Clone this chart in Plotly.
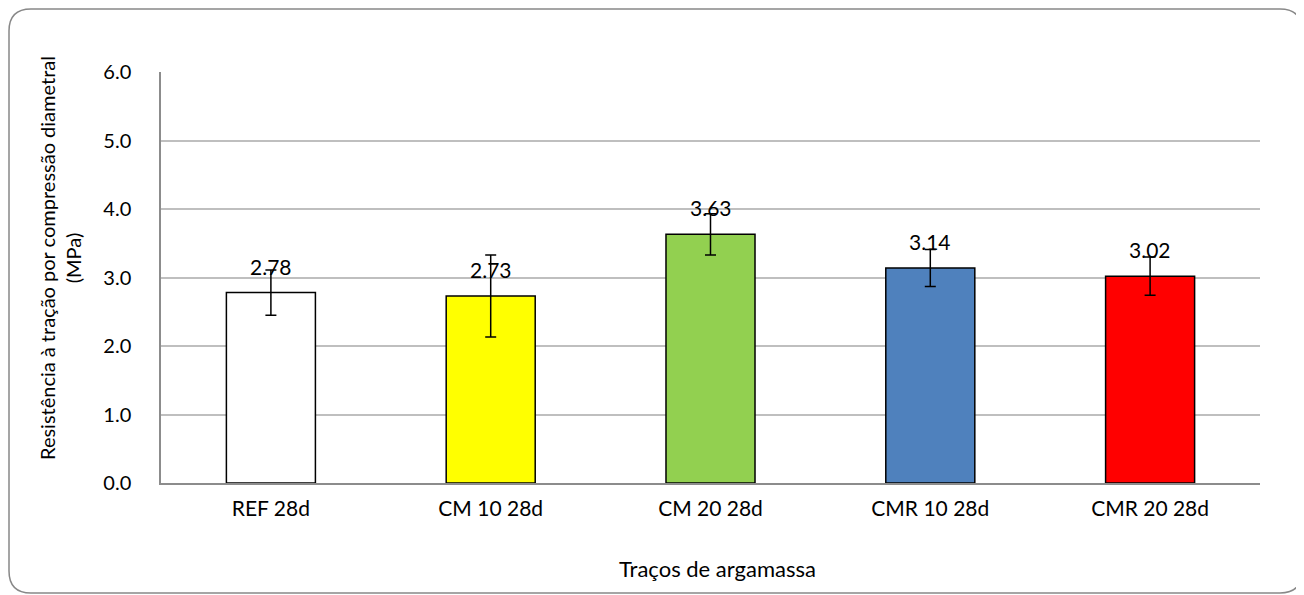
import plotly.graph_objects as go

categories = ["REF 28d", "CM 10 28d", "CM 20 28d", "CMR 10 28d", "CMR 20 28d"]
values = [2.78, 2.73, 3.63, 3.14, 3.02]
errors = [0.33, 0.60, 0.30, 0.27, 0.28]
colors = ["#FFFFFF", "#FFFF00", "#92D050", "#4F81BD", "#FF0000"]
labels = ["2.78", "2.73", "3.63", "3.14", "3.02"]
y_ticks = [0, 1, 2, 3, 4, 5, 6]
y_ticklabels = ["0.0", "1.0", "2.0", "3.0", "4.0", "5.0", "6.0"]

FONT = "Lato"
OFF = 8  # page body margin
W, H = 1304 - OFF, 595 - OFF
L, R, T, B = 161 - OFF, 1260 - OFF, 72 - OFF, 483 - OFF

fig = go.Figure()
fig.add_trace(go.Bar(
    x=categories, y=values,
    marker=dict(color=colors, line=dict(color="black", width=1.5)),
    width=0.405,
    error_y=dict(type="data", array=errors, visible=True, color="black", thickness=1.5, width=5.5),
    showlegend=False, hoverinfo="skip",
))

for c, v, t in zip(categories, values, labels):
    fig.add_annotation(x=c, y=v, text=t, showarrow=False, yanchor="bottom", yshift=12,
                       font=dict(family=FONT, size=21, color="black"))

pw, ph = R - L, B - T
def px(x):
    return (x - L) / pw
def py(y):
    return (B - y) / ph

x0, x1, y0, y1, r = 1, 1294, 1, 585, 22
path = (f"M {px(x0 + r)},{py(y0)} L {px(x1 - r)},{py(y0)} Q {px(x1)},{py(y0)} {px(x1)},{py(y0 + r)} "
        f"L {px(x1)},{py(y1 - r)} Q {px(x1)},{py(y1)} {px(x1 - r)},{py(y1)} "
        f"L {px(x0 + r)},{py(y1)} Q {px(x0)},{py(y1)} {px(x0)},{py(y1 - r)} "
        f"L {px(x0)},{py(y0 + r)} Q {px(x0)},{py(y0)} {px(x0 + r)},{py(y0)} Z")
fig.add_shape(type="path", path=path, xref="paper", yref="paper",
              line=dict(color="#888888", width=1.5), layer="below")

fig.add_annotation(text="Resistência à tração por compressão diametral<br>(MPa)",
                   x=px(52), y=py(250), xref="paper", yref="paper", textangle=-90,
                   showarrow=False, xanchor="center", yanchor="middle",
                   font=dict(family=FONT, size=20, color="black"))
fig.add_annotation(text="Traços de argamassa", x=px(709), y=py(560), xref="paper", yref="paper",
                   showarrow=False, xanchor="center", yanchor="middle",
                   font=dict(family=FONT, size=22, color="black"))

fig.update_layout(
    width=W, height=H,
    margin=dict(l=L, r=W - R, t=T, b=H - B, pad=0),
    paper_bgcolor="white", plot_bgcolor="white",
    font=dict(family=FONT, size=20, color="black"),
)
fig.update_xaxes(showline=True, linecolor="#8C8C8C", linewidth=1.5, showgrid=False,
                 ticks="outside", ticklen=6, tickcolor="rgba(0,0,0,0)",
                 tickfont=dict(family=FONT, size=21, color="black"))
fig.update_yaxes(range=[0, 6], tickvals=y_ticks, ticktext=y_ticklabels,
                 showline=True, linecolor="#8C8C8C", linewidth=1.5,
                 showgrid=True, gridcolor="#BFBFBF", gridwidth=1.5, zeroline=False,
                 ticks="outside", ticklen=24, tickcolor="rgba(0,0,0,0)",
                 tickfont=dict(family=FONT, size=20, color="black"))

fig.write_html("out.html")
